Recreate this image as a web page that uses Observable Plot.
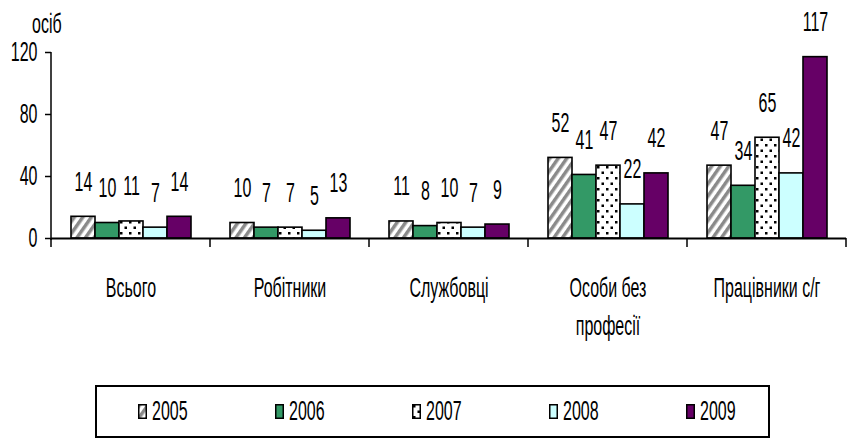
<!DOCTYPE html>
<html><head><meta charset="utf-8">
<script src="https://cdn.jsdelivr.net/npm/d3@7"></script>
<script src="https://cdn.jsdelivr.net/npm/@observablehq/plot@0.6"></script>
<style>
body{margin:0;background:#fff;font-family:"Liberation Sans",Arial,sans-serif;color:#000;}
#wrap{position:relative;width:853px;height:442px;overflow:hidden;}
#ylab{position:absolute;left:32px;top:16px;font-size:16px;line-height:16px;transform:scaleY(1.7);}
#legend{position:absolute;left:95px;top:385px;width:675px;height:53px;border:2px solid #000;box-sizing:border-box;display:flex;align-items:center;padding-left:41px;}
.item{display:flex;align-items:center;width:137px;flex:none;}
.item span{font-size:16px;line-height:16px;display:inline-block;transform:scaleY(1.7);margin-left:5px;}
</style></head><body>
<svg width="0" height="0" style="position:absolute">
  <defs>
    <pattern id="hatch" patternUnits="userSpaceOnUse" width="7" height="7" patternTransform="rotate(35)">
      <rect width="7" height="7" fill="#fff"/>
      <rect width="3.5" height="7" fill="#8a8a8a"/>
    </pattern>
    <pattern id="dots" patternUnits="userSpaceOnUse" width="9" height="11">
      <rect width="9" height="11" fill="#fff"/>
      <rect x="1" y="1" width="2.5" height="2.5" fill="#000"/>
      <rect x="5.5" y="6.5" width="2.5" height="2.5" fill="#000"/>
    </pattern>
  </defs>
</svg>
<div id="wrap"><div id="ylab"></div><div id="legend"></div></div>
<script>
const categories = ["Всього", "Робітники", "Службовці", "Особи без\nпрофесії", "Працівники с/г"];
const years = ["2005", "2006", "2007", "2008", "2009"];
const v2005 = [14, 10, 11, 52, 47];
const v2006 = [10, 7, 8, 41, 34];
const v2007 = [11, 7, 10, 47, 65];
const v2008 = [7, 5, 7, 22, 42];
const v2009 = [14, 13, 9, 42, 117];
const yTicks = [0, 40, 80, 120];
const yLabel = "осіб";
const fills = ["url(#hatch)", "#339966", "url(#dots)", "#ccffff", "#660066"];

const series = [v2005, v2006, v2007, v2008, v2009];
const data = categories.flatMap((c, i) => years.map((y, j) => ({cat: c, year: y, value: series[j][i]})));

const plot = Plot.plot({
  width: 853, height: 380,
  marginLeft: 49, marginRight: 5, marginTop: 52, marginBottom: 142,
  style: {fontFamily: "Liberation Sans, Arial, sans-serif", fontSize: "16px", color: "#000", background: "#fff"},
  fx: {domain: categories, padding: 0, label: null},
  x: {domain: years, paddingInner: 0, paddingOuter: 0.72, axis: null},
  y: {domain: [0, 120], label: null},
  color: {domain: years, range: fills},
  marks: [
    Plot.barY(data, {fx: "cat", x: "year", y: "value", fill: "year", stroke: "#000", strokeWidth: 1.6}),
    Plot.ruleY([0], {strokeWidth: 2}),
    Plot.text(data, {fx: "cat", x: "year", y: "value", text: d => String(d.value), dy: -35, fontSize: 16}),
    Plot.axisY({ticks: yTicks, tickSize: 6, tickPadding: 8, strokeWidth: 1.5, label: null, fontSize: 16}),
    Plot.axisFx({anchor: "bottom", tickSize: 0, tickPadding: 32, label: null, lineHeight: 1.43, fontSize: 16})
  ]
});
const wrap = document.getElementById("wrap");
wrap.prepend(plot);
plot.style.position = "absolute"; plot.style.left = "0"; plot.style.top = "0";

// axis line and category boundary ticks via the plot's scales
const fxS = plot.scale("fx"), yS = plot.scale("y");
const svg = d3.select(plot);
const g = svg.append("g").attr("stroke", "#000").attr("stroke-width", 1.5);
const x0 = fxS.apply(categories[0]);
g.append("line").attr("x1", x0).attr("x2", x0).attr("y1", yS.apply(yTicks[yTicks.length - 1])).attr("y2", yS.apply(0) + 2);
const bounds = categories.map(c => fxS.apply(c)).concat([fxS.apply(categories[categories.length - 1]) + fxS.bandwidth]);
bounds.forEach(b => g.append("line").attr("x1", b).attr("x2", b).attr("y1", yS.apply(0)).attr("y2", yS.apply(0) + 9));

// vertical stretch of text (tall condensed look)
const K = 1.7;
plot.querySelectorAll("text").forEach(t => {
  const b = t.getBBox();
  const inFx = t.closest('[aria-label^="fx-axis"]');
  const cx = b.x + b.width / 2, cy = inFx ? b.y : b.y + b.height / 2;
  t.setAttribute("transform", (t.getAttribute("transform") || "") + ` translate(${cx},${cy}) scale(1,${K}) translate(${-cx},${-cy})`);
});

document.getElementById("ylab").textContent = yLabel;
const legend = document.getElementById("legend");
years.forEach((y, i) => {
  const item = document.createElement("div");
  item.className = "item";
  item.innerHTML = `<svg width="9" height="15"><rect x="0.75" y="0.75" width="7.5" height="13.5" fill="${fills[i]}" stroke="#000" stroke-width="1.5"/></svg><span>${y}</span>`;
  legend.appendChild(item);
});
</script>
</body></html>
